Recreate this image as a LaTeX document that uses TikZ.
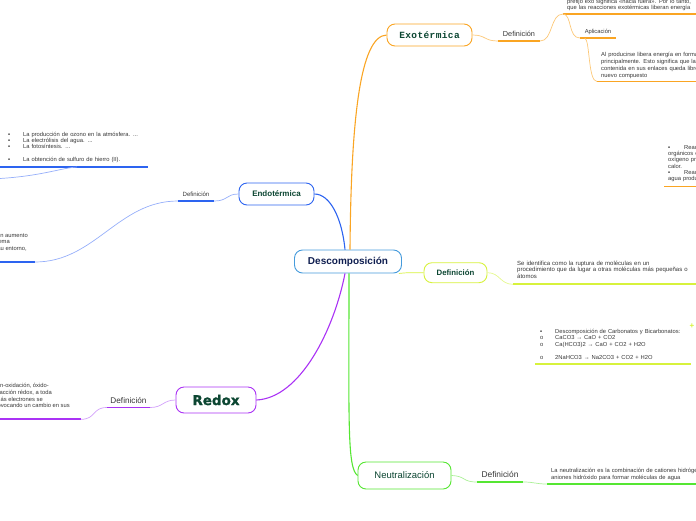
\documentclass[tikz,border=0pt]{standalone}
\usepackage{fontspec}
\setmainfont{Liberation Sans}
\newfontfamily\exofont{Liberation Mono}[LetterSpace=4]
\newfontfamily\redoxfont{DejaVu Sans}[BoldFeatures={FakeBold=1.2}]

\definecolor{hubline}{RGB}{70,155,220}
\definecolor{navy}{RGB}{15,30,80}
\definecolor{dgreen}{RGB}{12,70,50}
\definecolor{txt}{RGB}{55,55,55}
\definecolor{exoc}{RGB}{250,165,35}
\definecolor{exolt}{RGB}{252,200,120}
\definecolor{endoc}{RGB}{45,100,240}
\definecolor{endolt}{RGB}{150,175,250}
\definecolor{redoxc}{RGB}{170,50,245}
\definecolor{redoxlt}{RGB}{210,160,250}
\definecolor{neutc}{RGB}{85,230,50}
\definecolor{neutlt}{RGB}{170,240,150}
\definecolor{limec}{RGB}{215,242,60}
\definecolor{limelt}{RGB}{228,248,140}

\newcommand{\bul}{\makebox[15pt][l]{▪}}
\newcommand{\subl}{\makebox[15pt][l]{o}}

\begin{document}
\begin{tikzpicture}[x=1pt,y=-1pt,
    topic/.style={draw=#1, line width=0.9pt, rounded corners=8pt, fill=white, inner sep=0pt},
    lbl/.style={font=\fontsize{7.3}{8}\selectfont, text=txt, inner xsep=0pt, inner ysep=4pt, anchor=south},
    note/.style={font=\fontsize{5.8}{6.6}\selectfont, text=txt, align=left, text width=200pt,
      inner xsep=4pt, inner ysep=3pt, anchor=south west},
    cut/.style={font=\fontsize{5.8}{6.6}\selectfont, text=txt, inner sep=0pt, anchor=base east},
    branch/.style={draw=#1, line width=1.1pt},
    twig/.style={draw=#1, line width=0.7pt},
    uline/.style={draw=#1, line width=1.8pt},
  ]
  \useasboundingbox (0,0) rectangle (696,520);
  \clip (0,0) rectangle (696,520);

  % main topics
  \node[topic=hubline, minimum width=107pt, minimum height=23pt, text=navy,
    font=\bfseries\fontsize{10}{12}\selectfont] (desc) at (348,261.5) {Descomposición};
  \node[topic=exoc, minimum width=85pt, minimum height=22pt, text=dgreen,
    font=\exofont\bfseries\fontsize{9.5}{11}\selectfont] (exo) at (429.5,35) {Exotérmica};
  \node[topic=endoc, minimum width=75pt, minimum height=22pt, text=dgreen,
    font=\bfseries\fontsize{8}{10}\selectfont] (endo) at (276.5,194) {Endotérmica};
  \node[topic=redoxc, minimum width=80pt, minimum height=26pt, text=dgreen,
    font=\redoxfont\bfseries\fontsize{13.5}{15}\selectfont] (redox) at (216,400) {Redox};
  \node[topic=neutc, minimum width=93pt, minimum height=27pt, text=dgreen,
    font=\fontsize{9.5}{11}\selectfont] (neut) at (404.5,475.5) {Neutralización};
  \node[topic=limec, minimum width=63pt, minimum height=20pt, text=dgreen,
    font=\bfseries\fontsize{7.8}{9}\selectfont] (ydef) at (455.5,272.7) {Definición};

  \draw[branch=exoc] ([xshift=2pt]desc.north) .. controls (351,120) and (360,36) .. (exo.west);
  \draw[branch=endoc] ([xshift=-3pt]desc.north) .. controls (342,218) and (330,194) .. (endo.east);
  \draw[branch=redoxc] ([xshift=-3pt]desc.south) .. controls (334,330) and (300,398) .. (redox.east);
  \draw[branch=neutc] ([xshift=1pt]desc.south) .. controls (349,420) and (347,468) .. (neut.west);
  \draw[twig=limec] ([xshift=-3pt]desc.south east) .. controls (412,272) and (414,273) .. (ydef.west);

  % Exotermica
  \node[lbl, minimum width=42pt] (exodef) at (519,41) {Definición};
  \draw[uline=exoc] (exodef.south west) -- (exodef.south east);
  \draw[twig=exolt] (exo.east) .. controls (486,35) and (484,41) .. (exodef.south west);
  \node[note, inner ysep=2.8pt] (exotop) at (563,14) {prefijo exo significa «hacia fuera». Por lo tanto, \\ que las reacciones exotérmicas liberan energía};
  \draw[uline=exoc] (exotop.south west) -- (exotop.south east);
  \draw[twig=exolt] (exodef.south east) .. controls (553,41) and (550,14) .. (exotop.south west);
  \node[lbl, minimum width=36pt, font=\fontsize{5.8}{7}\selectfont, inner ysep=3.5pt] (apl) at (598,38) {Aplicación};
  \draw[uline=exoc] (apl.south west) -- (apl.south east);
  \draw[twig=exolt] (exotop.south west) .. controls (572,14) and (568,38) .. (apl.south west);
  \node[note, font=\fontsize{5.8}{6.9}\selectfont, inner ysep=2.6pt] (exobot) at (597,81.5) {Al producirse libera energía en forma de calor \\ principalmente. Esto significa que la energía \\ contenida en sus enlaces queda libre al formarse un \\ nuevo compuesto};
  \draw[uline=exoc] (exobot.south west) -- (exobot.south east);
  \draw[twig=exolt] ([xshift=5pt]apl.south west) .. controls (590,40) and (588,81.5) .. (exobot.south west);
  \node[note, font=\fontsize{5.8}{6.3}\selectfont, inner ysep=4.3pt] (exoreac) at (664,186.5) {\makebox[16pt][l]{▪}Reacciones de combustión \\ orgánicos en presencia de \\ oxígeno produciendo dióxido \\ calor. \\ \makebox[16pt][l]{▪}Reacciones de ácidos con \\ agua produciendo calor};
  \draw[uline=exoc] (exoreac.south west) -- (exoreac.south east);

  % Endotermica
  \node[lbl, minimum width=36pt, font=\fontsize{6.1}{7}\selectfont] (endodef) at (196,201) {Definición};
  \draw[uline=endoc] (endodef.south west) -- (endodef.south east);
  \draw[twig=endolt] (endo.west) .. controls (226,194) and (228,201) .. (endodef.south east);
  \node[cut] (endol1) at (28,237) {en las que se produce un aumento};
  \node[cut] (endol2) at (10,243.5) {de la energía del sistema};
  \node[cut] (endol3) at (27,250) {que absorben calor de su entorno,};
  \coordinate (endotxtL) at (-5,262);
  \coordinate (endotxtR) at (35,262);
  \draw[uline=endoc] (endotxtL) -- (endotxtR);
  \draw[twig=endolt] (endodef.south west) .. controls (118,201) and (95,262) .. (endotxtR);
  \node[note, text width=151pt, inner xsep=0pt, inner ysep=4pt, font=\fontsize{5.8}{6.4}\selectfont] (endolist) at (-3,167) {\hspace*{11pt}\bul La producción de ozono en la atmósfera. ... \\ \hspace*{11pt}\bul La electrólisis del agua. ... \\ \hspace*{11pt}\bul La fotosíntesis. ... \\[6.4pt] \hspace*{11pt}\bul La obtención de sulfuro de hierro (II).};
  \draw[uline=endoc] (endolist.south west) -- (endolist.south east);
  \coordinate (endoin) at (-10,179);
  \draw[twig=endolt] (endoin) .. controls (40,177) and (60,168) .. ([xshift=80pt]endolist.south west);

  % Redox
  \node[lbl, minimum width=43pt, font=\fontsize{8.2}{9}\selectfont] (redoxdef) at (128.5,407.5) {Definición};
  \draw[uline=redoxc] (redoxdef.south west) -- (redoxdef.south east);
  \draw[twig=redoxlt] (redox.west) .. controls (163,400) and (163,407.5) .. (redoxdef.south east);
  \node[cut] (redoxl1) at (49,387) {Se denomina reacción de reducción-oxidación, óxido-};
  \node[cut] (redoxl2) at (52,394) {reducción o, simplemente, reacción rédox, a toda};
  \node[cut] (redoxl3) at (43,401) {reacción química en la que uno o más electrones se};
  \node[cut] (redoxl4) at (70,407.5) {transfieren entre los reactivos, provocando un cambio en sus};
  \coordinate (redoxtxtL) at (-5,419.3);
  \coordinate (redoxtxtR) at (81,419.3);
  \draw[uline=redoxc] (redoxtxtL) -- (redoxtxtR);
  \draw[twig=redoxlt] (redoxdef.south west) .. controls (92,407.5) and (96,419.3) .. (redoxtxtR);

  % Definicion (centro)
  \node[note, font=\fontsize{6}{6.4}\selectfont, inner ysep=6pt] (ytxt) at (513,284.3) {Se identifica como la ruptura de moléculas en un \\ procedimiento que da lugar a otras moléculas más pequeñas o \\ átomos};
  \draw[uline=limec] (ytxt.south west) -- (ytxt.south east);
  \draw[twig=limelt] (ydef.east) .. controls (500,272.7) and (500,284.3) .. (ytxt.south west);
  \node[note, inner xsep=5pt, inner ysep=4.7pt, font=\fontsize{5.8}{6.4}\selectfont] (carb) at (535,364) {\bul Descomposición de Carbonatos y Bicarbonatos: \\ \subl CaCO3 → CaO + CO2 \\ \subl Ca(HCO3)2 → CaO + CO2 + H2O \\[6.4pt] \subl 2NaHCO3 → Na2CO3 + CO2 + H2O};
  \draw[uline=limec] (carb.south west) -- ++(156,0);
  \node[font=\bfseries\fontsize{8}{8}\selectfont, text=limec, inner sep=0pt] (carbplus) at (692,326) {+};

  % Neutralizacion
  \node[lbl, minimum width=46pt, font=\fontsize{8.4}{9}\selectfont] (neutdef) at (500,482) {Definición};
  \draw[uline=neutc] (neutdef.south west) -- (neutdef.south east);
  \draw[twig=neutlt] (neut.east) .. controls (466,476) and (462,482) .. (neutdef.south west);
  \node[note, inner ysep=3.3pt] (neuttxt) at (547,484) {La neutralización es la combinación de cationes hidrógeno con \\ aniones hidróxido para formar moléculas de agua};
  \draw[uline=neutc] (neuttxt.south west) -- (neuttxt.south east);
  \draw[twig=neutlt] (neutdef.south east) .. controls (535,482) and (535,484) .. (neuttxt.south west);
\end{tikzpicture}
\end{document}
